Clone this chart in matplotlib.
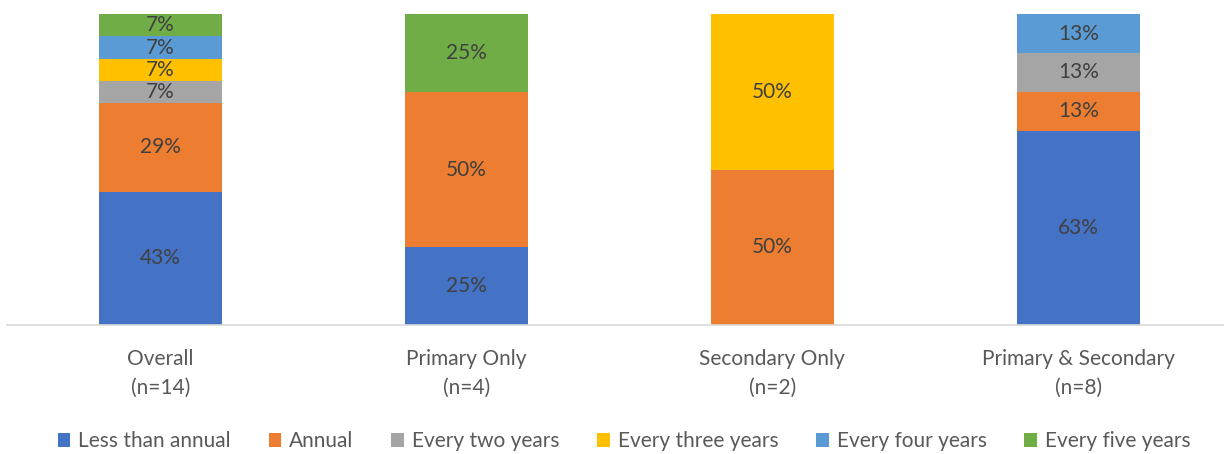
import numpy as np
import matplotlib.pyplot as plt

plt.rcParams['font.family'] = ['Lato', 'DejaVu Sans']

# data (percent of each group)
categories = ['Overall\n(n=14)', 'Primary Only\n(n=4)', 'Secondary Only\n(n=2)', 'Primary & Secondary\n(n=8)']
series_names = ['Less than annual', 'Annual', 'Every two years', 'Every three years', 'Every four years', 'Every five years']
less_than_annual = [42.9, 25, 0, 62.5]
annual = [28.6, 50, 50, 12.5]
every_two = [7.1, 0, 0, 12.5]
every_three = [7.1, 0, 50, 0]
every_four = [7.1, 0, 0, 12.5]
every_five = [7.1, 25, 0, 0]

colors = ['#4472C4', '#ED7D31', '#A5A5A5', '#FFC000', '#5B9BD5', '#70AD47']

series = [less_than_annual, annual, every_two, every_three, every_four, every_five]

fig = plt.figure(figsize=(12.24, 4.54), dpi=100)
ax = fig.add_axes([0.006, 0.284, 1.0, 0.685])

x = np.arange(len(categories))
bottom = np.zeros(len(categories))
for name, vals, col in zip(series_names, series, colors):
    vals = np.array(vals, dtype=float)
    bars = ax.bar(x, vals, 0.4, bottom=bottom, color=col, label=name)
    for b, v, bt in zip(bars, vals, bottom):
        if v > 0:
            ax.text(b.get_x() + b.get_width() / 2, bt + v / 2, '%d%%' % round(v + 0.01),
                    ha='center', va='center', fontsize=15, color='#404040')
    bottom += vals

ax.set_xlim(-0.5, 3.5)
ax.set_ylim(0, 100)
ax.set_yticks([])
ax.set_xticks(x)
ax.set_xticklabels(categories, fontsize=15, color='#595959', linespacing=1.55)
ax.tick_params(axis='x', length=0, pad=17)
for s in ['top', 'right', 'left']:
    ax.spines[s].set_visible(False)
ax.spines['bottom'].set_color('#D9D9D9')
ax.spines['bottom'].set_linewidth(1.2)

fig.legend(loc='center', bbox_to_anchor=(0.51, 0.028), ncol=6, frameon=False,
           fontsize=15, handlelength=0.6, handleheight=0.6, handletextpad=0.4,
           columnspacing=1.8, labelcolor='#595959')

fig.savefig('out.png', dpi=100)
